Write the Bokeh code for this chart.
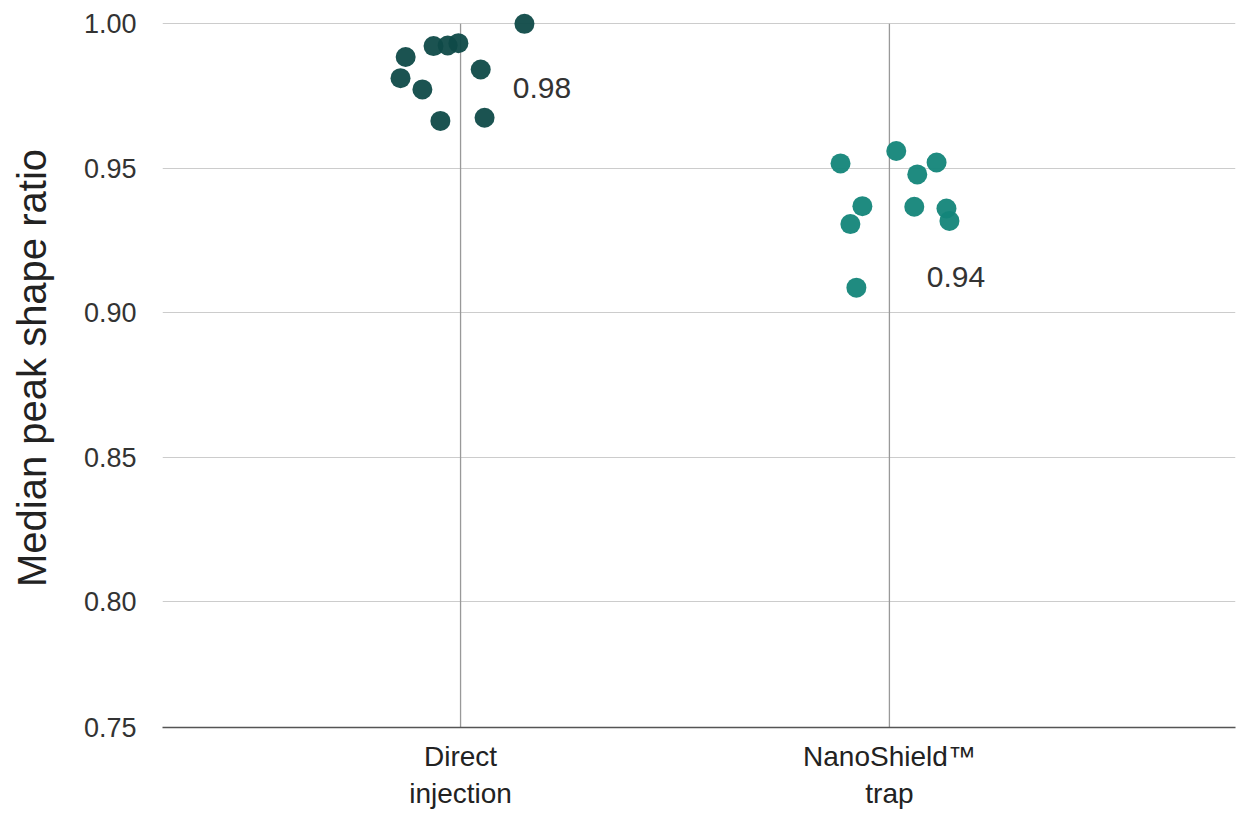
from bokeh.plotting import figure
from bokeh.models import Range1d, FixedTicker
from bokeh.embed import file_html
from bokeh.resources import INLINE
from bokeh.core.properties import value

# ---- data ----
categories = ["Direct\ninjection", "NanoShield\u2122\ntrap"]
cat_pos = [0, 1]

direct_jitter = [0.149, -0.128, -0.140, -0.089, -0.063, -0.030, -0.005, -0.047, 0.047, 0.056]
direct_vals = [1.000, 0.9885, 0.9812, 0.9773, 0.9923, 0.9925, 0.9933, 0.9664, 0.9842, 0.9675]

nano_jitter = [-0.114, 0.016, 0.110, 0.065, -0.063, 0.058, 0.133, 0.140, -0.091, -0.077]
nano_vals = [0.9517, 0.9560, 0.9520, 0.9479, 0.9369, 0.9367, 0.9361, 0.9318, 0.9307, 0.9087]

median_labels = ["0.98", "0.94"]
median_label_x = [0.19, 1.155]
median_label_y = [0.9777, 0.9124]

y_ticks = [0.7565, 0.80, 0.85, 0.90, 0.95, 1.00]
y_tick_labels = ["0.75", "0.80", "0.85", "0.90", "0.95", "1.00"]

Y_START, Y_END, Y_TOP = 0.7565, 1.0053, 1.00
FONT = "Liberation Sans"

p = figure(frame_width=1073, frame_height=719, output_backend="svg",
           toolbar_location=None, min_border_left=162, min_border_right=3,
           min_border_top=8, min_border_bottom=86,
           x_range=Range1d(-0.695, 1.807), y_range=Range1d(Y_START, Y_END))
p.outline_line_color = None
p.background_fill_color = "white"
p.border_fill_color = "white"

# grid
p.xgrid.visible = False
p.ygrid.ticker = FixedTicker(ticks=y_ticks[1:])
p.ygrid.grid_line_color = "#cccccc"
p.ygrid.grid_line_width = 1.2

# vertical category lines
p.segment(x0=cat_pos, y0=[Y_START] * 2, x1=cat_pos, y1=[Y_TOP] * 2,
          line_color="#999999", line_width=1.3)

# y axis
p.yaxis.ticker = FixedTicker(ticks=y_ticks)
p.yaxis.major_label_overrides = {t: l for t, l in zip(y_ticks, y_tick_labels)}
p.yaxis.axis_line_color = None
p.yaxis.major_tick_line_color = None
p.yaxis.minor_tick_line_color = None
p.yaxis.major_label_text_font = FONT
p.yaxis.major_label_text_font_size = "27px"
p.yaxis.major_label_text_color = "#333333"
p.yaxis.major_label_standoff = 20
p.yaxis.axis_label = "Median peak shape ratio"
p.yaxis.axis_label_text_font = FONT
p.yaxis.axis_label_text_font_size = "40px"
p.yaxis.axis_label_text_font_style = "normal"
p.yaxis.axis_label_text_color = "#222222"
p.yaxis.axis_label_standoff = 27

# x axis
p.xaxis.ticker = FixedTicker(ticks=cat_pos)
p.xaxis.major_label_overrides = {c: l for c, l in zip(cat_pos, categories)}
p.xaxis.axis_line_color = "#555555"
p.xaxis.axis_line_width = 1.5
p.xaxis.major_tick_line_color = None
p.xaxis.minor_tick_line_color = None
p.xaxis.major_label_text_font = FONT
p.xaxis.major_label_text_font_size = "28px"
p.xaxis.major_label_text_color = "#222222"
p.xaxis.major_label_standoff = 7

# points
dx = [cat_pos[0] + j for j in direct_jitter]
nx = [cat_pos[1] + j for j in nano_jitter]
p.scatter(dx, direct_vals, size=20, fill_color="#0f4a48", line_color=None, fill_alpha=0.95)
p.scatter(nx, nano_vals, size=20, fill_color="#138579", line_color=None, fill_alpha=0.95)

# median labels
p.text(x=median_label_x, y=median_label_y, text=median_labels,
       text_font=value(FONT), text_font_size="30px", text_color="#333333",
       text_align="center", text_baseline="middle")

open("out.html", "w").write(file_html(p, INLINE))
